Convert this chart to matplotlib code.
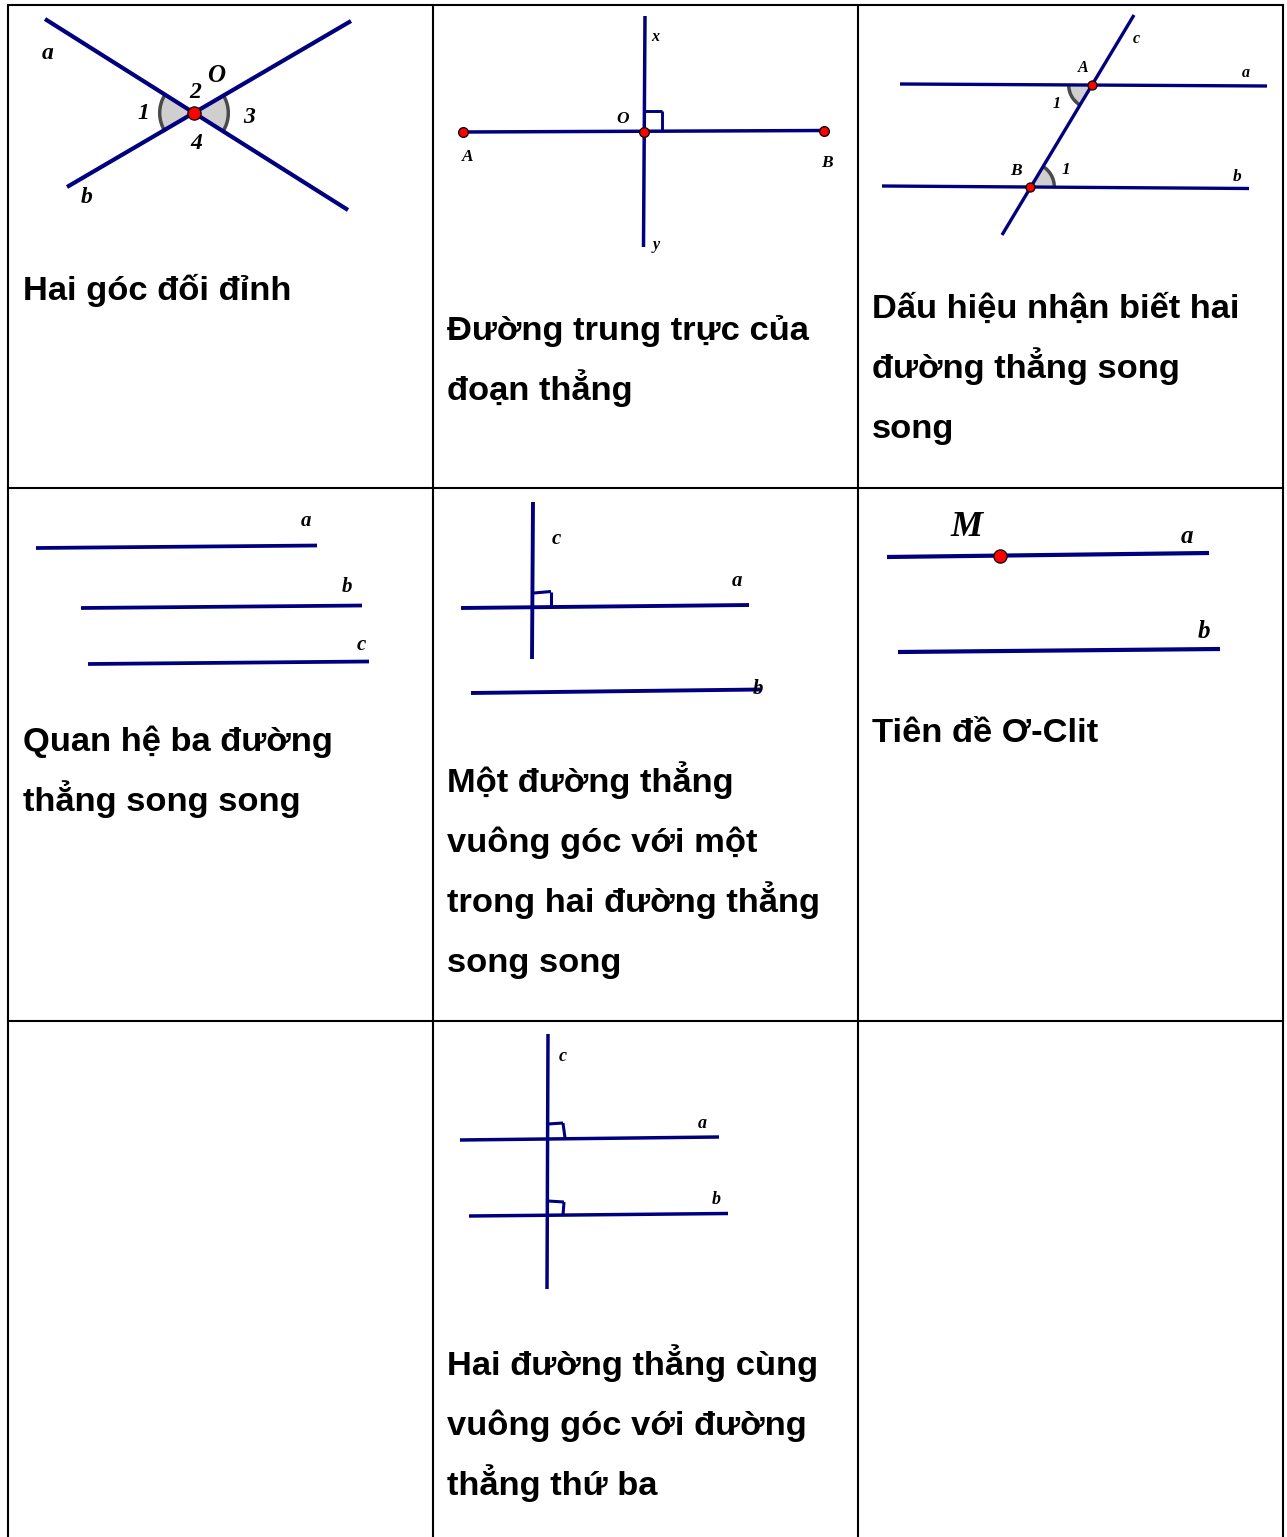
import matplotlib
matplotlib.use("Agg")
import matplotlib.pyplot as plt
from matplotlib.patches import Wedge

W, H = 1287, 1537
NAVY = "#00007f"
SANS = "Liberation Sans"
SERIF = "Liberation Serif"

grid_x = [8, 433, 858, 1283]
grid_y = [5, 488, 1021, 1537]

# segments: (x0, y0, x1, y1, width_pt)
segments = [
    (45, 19, 348, 210, 3.0), (351, 21, 67, 187, 3.0),
    (463, 132, 824, 130.5, 2.5), (645, 16, 643.5, 247, 2.5),
    (645, 111, 662, 111, 2.1), (662, 111, 662, 131, 2.1),
    (900, 84, 1267, 86, 2.4), (882, 186, 1249, 188.5, 2.4), (1134, 15, 1002, 235, 2.4),
    (36, 548, 317, 545.5, 2.7), (81, 608, 362, 605.5, 2.7), (88, 664, 369, 661.5, 2.7),
    (461, 608, 749, 605, 2.8), (471, 693, 760, 689.5, 2.8), (533, 502, 532, 659, 2.8),
    (534, 593, 551, 591.5, 2.2), (551, 591.5, 551, 606, 2.2),
    (887, 557, 1209, 553, 3.0), (898, 652, 1220, 649, 3.0),
    (460, 1140, 719, 1137, 2.5), (469, 1216, 728, 1213.5, 2.5), (548, 1034, 547, 1289, 2.5),
    (548, 1124, 563, 1123, 2.2), (563, 1123, 565, 1138, 2.2),
    (548, 1201, 564, 1202, 2.2), (564, 1202, 563, 1215, 2.2),
]

# filled angle marks: (cx, cy, radius, start_deg, end_deg)
angle_marks = [
    (194, 113, 36, 147, 213), (194, 113, 36, -33, 33),
    (1092, 85, 25, 122, 180), (1030, 187, 26, 300, 360),
]

# red points: (x, y, size_pt)
points = [
    (194, 113, 9.5), (463, 132, 7), (824, 130.5, 7), (644, 131.5, 7),
    (1092, 85, 6.5), (1030, 187, 6.5), (1000, 556, 9.5),
]

# serif labels: (text, x, y, size_pt)
labels = [
    ("a", 48, 52, 17), ("b", 87, 196, 17), ("O", 216, 74, 18), ("2", 195, 91, 17),
    ("1", 143, 112, 17), ("3", 249, 116, 17), ("4", 196, 142, 17),
    ("x", 655, 36, 11.5), ("y", 656, 244, 11.5), ("O", 623, 118, 12.5),
    ("A", 468, 156, 12.5), ("B", 827, 162, 12.5),
    ("c", 1136, 38, 11.5), ("A", 1083, 67, 11.5), ("a", 1246, 72, 11.5), ("1", 1057, 103, 11.5),
    ("B", 1016, 170, 12.5), ("1", 1066, 169, 12.5), ("b", 1237, 176, 12.5),
    ("a", 306, 520, 15), ("b", 347, 585, 15), ("c", 361, 643, 15),
    ("c", 556, 537, 15), ("a", 737, 580, 15), ("b", 758, 687, 15),
    ("M", 967, 525, 26), ("a", 1187, 535, 18), ("b", 1204, 630, 18),
    ("c", 563, 1055, 13), ("a", 702, 1122, 13), ("b", 716, 1198, 13),
]

# captions: (x, first_baseline_y, lines)
captions = [
    (23, 300, ["Hai góc đối đỉnh"]),
    (447, 340, ["Đường trung trực của", "đoạn thẳng"]),
    (872, 318, ["Dấu hiệu nhận biết hai", "đường thẳng song", "song"]),
    (23, 751, ["Quan hệ ba đường", "thẳng song song"]),
    (447, 792, ["Một đường thẳng", "vuông góc với một", "trong hai đường thẳng", "song song"]),
    (872, 742, ["Tiên đề Ơ-Clit"]),
    (447, 1375, ["Hai đường thẳng cùng", "vuông góc với đường", "thẳng thứ ba"]),
]
line_step = 60

fig = plt.figure(figsize=(W / 100, H / 100), dpi=100, facecolor="white")
ax = fig.add_axes([0, 0, 1, 1])
ax.set_xlim(0, W)
ax.set_ylim(H, 0)
ax.axis("off")

for x in grid_x:
    ax.plot([x, x], [grid_y[0], grid_y[-1]], color="black", lw=1.5, solid_capstyle="butt", zorder=1)
for y in grid_y[:-1]:
    ax.plot([grid_x[0], grid_x[-1]], [y, y], color="black", lw=1.5, solid_capstyle="projecting", zorder=1)

for cx, cy, r, a0, a1 in angle_marks:
    # y axis is inverted, so angles are mirrored
    ax.add_patch(Wedge((cx, cy), r, a0, a1, facecolor="#cfcfcf", edgecolor="none", zorder=2))
    ax.add_patch(Wedge((cx, cy), r, a0, a1, width=3.4, facecolor="#4a4a4a", edgecolor="none", zorder=2))

for x0, y0, x1, y1, lw in segments:
    ax.plot([x0, x1], [y0, y1], color=NAVY, lw=lw, solid_capstyle="butt", zorder=3)

for x, y, s in points:
    ax.plot([x], [y], "o", ms=s, mfc="#ff0000", mec="black", mew=0.9, zorder=4)

for t, x, y, s in labels:
    ax.text(x, y + s * 0.1, t, family=SERIF, weight="bold", style="italic", fontsize=s,
            ha="center", va="center", color="black", zorder=5)

for x, y0, lines in captions:
    for i, line in enumerate(lines):
        ax.text(x, y0 + i * line_step, line, family=SANS, weight="bold", fontsize=24.8,
                ha="left", va="baseline", color="black", zorder=5)

fig.savefig("out.png", dpi=100, facecolor="white")
